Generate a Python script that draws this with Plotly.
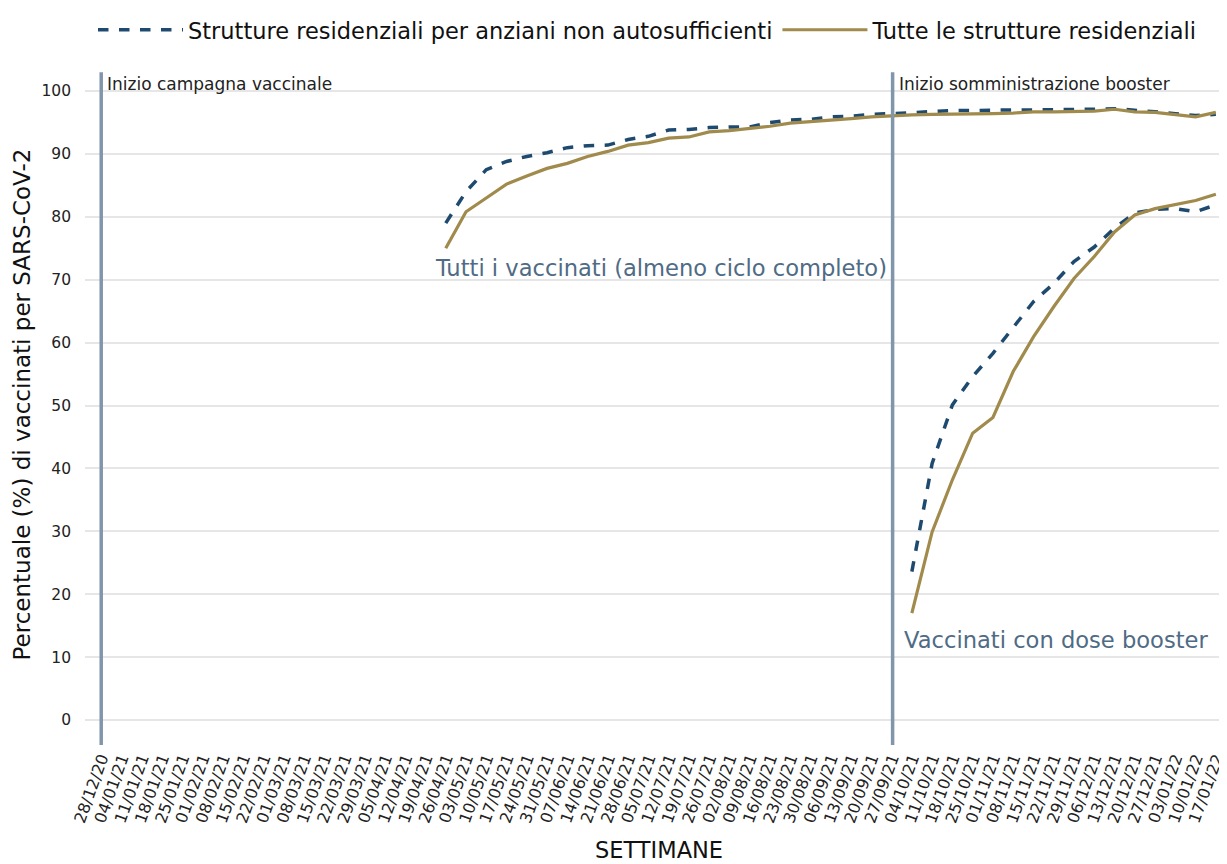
import plotly.graph_objects as go

weeks = ["28/12/20", "04/01/21", "11/01/21", "18/01/21", "25/01/21", "01/02/21", "08/02/21",
         "15/02/21", "22/02/21", "01/03/21", "08/03/21", "15/03/21", "22/03/21", "29/03/21",
         "05/04/21", "12/04/21", "19/04/21", "26/04/21", "03/05/21", "10/05/21", "17/05/21",
         "24/05/21", "31/05/21", "07/06/21", "14/06/21", "21/06/21", "28/06/21", "05/07/21",
         "12/07/21", "19/07/21", "26/07/21", "02/08/21", "09/08/21", "16/08/21", "23/08/21",
         "30/08/21", "06/09/21", "13/09/21", "20/09/21", "27/09/21", "04/10/21", "11/10/21",
         "18/10/21", "25/10/21", "01/11/21", "08/11/21", "15/11/21", "22/11/21", "29/11/21",
         "06/12/21", "13/12/21", "20/12/21", "27/12/21", "03/01/22", "10/01/22", "17/01/22"]

# Tutti i vaccinati (almeno ciclo completo), from week index 17 (26/04/21)
full_rsa_na = [79.0, 84.0, 87.5, 88.8, 89.6, 90.2, 91.0, 91.3, 91.4, 92.3, 92.8, 93.8,
               93.9, 94.2, 94.3, 94.3, 95.0, 95.4, 95.5, 95.9, 96.0, 96.3, 96.4,
               96.6, 96.8, 96.9, 96.9, 97.0, 97.0, 97.0, 97.0, 97.0, 97.1, 97.2, 97.0,
               96.7, 96.4, 96.1, 96.3]
full_all = [75.0, 80.8, 83.0, 85.2, 86.5, 87.7, 88.5, 89.6, 90.4, 91.4, 91.8, 92.5,
            92.7, 93.5, 93.7, 94.0, 94.4, 94.9, 95.1, 95.4, 95.6, 95.9, 96.1,
            96.2, 96.3, 96.3, 96.4, 96.4, 96.5, 96.7, 96.7, 96.7, 96.8, 97.1, 96.7,
            96.6, 96.3, 95.9, 96.6]

# Vaccinati con dose booster, from week index 40 (04/10/21)
boost_rsa_na = [23.6, 40.8, 50.1, 54.6, 58.3, 62.5, 66.5, 69.4, 72.9, 75.2, 78.2,
                80.6, 81.2, 81.3, 80.8, 81.9]
boost_all = [17.0, 29.9, 38.2, 45.6, 48.1, 55.4, 60.9, 65.7, 70.2, 73.7, 77.6,
             80.3, 81.3, 81.9, 82.6, 83.6]

y_ticks = [0, 10, 20, 30, 40, 50, 60, 70, 80, 90, 100]

full_start = 17
boost_start = 40
campaign_week = 0
booster_week = 39.05

idx = list(range(len(weeks)))

def pad(vals, start):
    out = [None] * len(weeks)
    for i, v in enumerate(vals):
        out[start + i] = v
    return out

NAVY = "#1f4a70"
GOLD = "#a08a4c"
VLINE = "#8196aa"
LABEL = "#4f6b85"
FONT = "DejaVu Sans, Verdana, sans-serif"

fig = go.Figure()

fig.add_trace(go.Scatter(x=idx, y=pad(full_rsa_na, full_start), mode="lines",
                         line=dict(color=NAVY, width=3.5, dash="dash"),
                         name="Strutture residenziali per anziani non autosufficienti",
                         legendgroup="a"))
fig.add_trace(go.Scatter(x=idx, y=pad(full_all, full_start), mode="lines",
                         line=dict(color=GOLD, width=3.2),
                         name="Tutte le strutture residenziali",
                         legendgroup="b"))
fig.add_trace(go.Scatter(x=idx, y=pad(boost_rsa_na, boost_start), mode="lines",
                         line=dict(color=NAVY, width=3.5, dash="dash"),
                         showlegend=False, legendgroup="a"))
fig.add_trace(go.Scatter(x=idx, y=pad(boost_all, boost_start), mode="lines",
                         line=dict(color=GOLD, width=3.2),
                         showlegend=False, legendgroup="b"))

for wk in (campaign_week, booster_week):
    fig.add_shape(type="line", x0=wk, x1=wk, xref="x", y0=-3.97, y1=103, yref="y",
                  line=dict(color=VLINE, width=3.5), layer="above")

fig.add_annotation(x=campaign_week + 0.2, y=101.1, text="Inizio campagna vaccinale",
                   showarrow=False, xanchor="left", yanchor="middle",
                   font=dict(size=17, color="#222222", family=FONT))
fig.add_annotation(x=booster_week + 0.2, y=101.1, text="Inizio somministrazione booster",
                   showarrow=False, xanchor="left", yanchor="middle",
                   font=dict(size=17, color="#222222", family=FONT))
fig.add_annotation(x=27.6, y=71.9, text="Tutti i vaccinati (almeno ciclo completo)",
                   showarrow=False, xanchor="center", yanchor="middle",
                   font=dict(size=22.6, color=LABEL, family=FONT))
fig.add_annotation(x=47.1, y=12.7, text="Vaccinati con dose booster",
                   showarrow=False, xanchor="center", yanchor="middle",
                   font=dict(size=22.6, color=LABEL, family=FONT))

# axis titles
fig.add_annotation(x=-0.055, xref="paper", y=50.2, yref="y",
                   text="Percentuale (%) di vaccinati per SARS-CoV-2", textangle=-90,
                   showarrow=False, xanchor="center", yanchor="middle",
                   font=dict(size=23, color="#111111", family=FONT))
fig.add_annotation(x=27.5, xref="x", y=-0.142, yref="paper", text="SETTIMANE",
                   showarrow=False, xanchor="center", yanchor="middle",
                   font=dict(size=22.5, color="#111111", family=FONT))

# The page adds an 8px body margin, so the figure is 8px smaller than the window
fig.update_layout(
    width=1219, height=856,
    margin=dict(l=77, r=0, t=0, b=119),
    paper_bgcolor="white", plot_bgcolor="white",
    font=dict(family=FONT, color="#111111"),
    legend=dict(orientation="h", x=0.007, xanchor="left", y=0.970, yanchor="middle",
                font=dict(size=22.5, color="#111111", family=FONT),
                itemwidth=85,
                traceorder="normal", bgcolor="rgba(0,0,0,0)"),
    showlegend=True,
)

fig.update_xaxes(range=[-0.8, 55.55], tickmode="array", tickvals=idx, ticktext=weeks,
                 tickangle=-70, tickfont=dict(size=16, color="#222222", family=FONT),
                 ticklabeloverflow="allow", automargin=False,
                 showgrid=False, zeroline=False, showline=False, ticks="")
fig.update_yaxes(range=[-3.97, 113.2], tickmode="array", tickvals=y_ticks,
                 tickfont=dict(size=15.5, color="#222222", family=FONT),
                 ticklabelstandoff=13, automargin=False,
                 showgrid=True, gridcolor="#e6e6e6", gridwidth=2,
                 zeroline=False, showline=False, ticks="")

fig.write_html("out.html")
